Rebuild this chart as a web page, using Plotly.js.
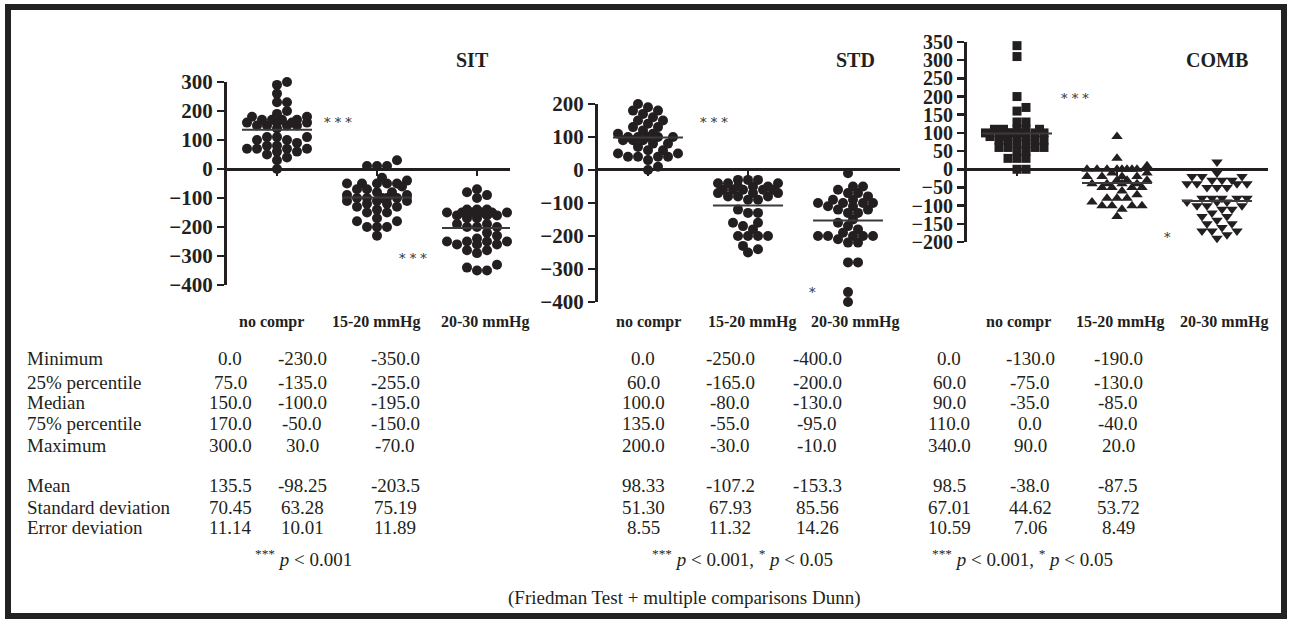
<!DOCTYPE html>
<html>
<head>
<meta charset="utf-8">
<script src="https://cdn.plot.ly/plotly-3.0.1.min.js"></script>
<style>html,body{margin:0;padding:0;background:#fff;}#chart{width:1290px;height:620px;}</style>
</head>
<body>
<div id="chart"></div>
<script>
// ---------- DATA ----------
const categories = ['no compr', '15-20 mmHg', '20-30 mmHg'];
const panelNames = ['SIT', 'STD', 'COMB'];

const sitNoCompr = [0,30,40,50,60,60,70,70,70,70,80,80,90,100,100,110,110,110,140,150,150,150,150,160,160,160,160,170,170,170,170,180,180,190,200,230,230,260,290,300];
const sit1520 = [-230,-200,-200,-200,-180,-180,-170,-150,-150,-140,-130,-130,-120,-120,-110,-110,-110,-100,-100,-100,-100,-100,-90,-90,-80,-80,-70,-70,-60,-50,-50,-50,-50,-50,-40,-30,10,10,10,30];
const sit2030 = [-350,-350,-340,-330,-290,-280,-280,-260,-260,-260,-250,-250,-250,-250,-240,-230,-220,-200,-200,-200,-190,-190,-170,-170,-160,-160,-160,-150,-150,-150,-150,-150,-150,-140,-140,-140,-100,-90,-80,-70];

const stdNoCompr = [0,10,30,40,40,40,40,50,50,60,60,70,80,80,90,90,90,100,100,100,100,100,110,110,120,130,130,140,150,150,160,170,180,180,190,200];
const std1520 = [-250,-240,-230,-200,-200,-200,-200,-180,-170,-160,-160,-130,-130,-120,-90,-90,-80,-80,-80,-70,-70,-70,-60,-60,-60,-60,-60,-50,-50,-50,-40,-40,-40,-30,-30,-30];
const std2030 = [-400,-370,-280,-280,-220,-220,-210,-200,-200,-200,-200,-200,-190,-180,-170,-160,-150,-130,-130,-120,-120,-110,-110,-100,-100,-100,-100,-90,-90,-80,-70,-70,-60,-50,-50,-10];

const combNoCompr = [0,0,30,30,30,50,50,60,60,60,60,70,70,80,80,80,80,90,90,90,90,100,100,100,100,100,100,100,110,110,110,110,110,130,130,160,170,200,310,340];
const comb1520 = [-130,-110,-100,-100,-100,-100,-90,-80,-80,-80,-70,-60,-50,-50,-50,-50,-40,-40,-40,-40,-30,-30,-30,-20,-20,-20,-20,-10,-10,0,0,0,0,0,0,0,0,10,30,90];
const comb2030 = [-190,-180,-170,-170,-170,-160,-150,-150,-140,-130,-130,-120,-110,-110,-100,-100,-100,-90,-90,-90,-80,-80,-80,-80,-80,-50,-50,-50,-40,-40,-40,-40,-30,-30,-30,-20,-20,-20,-10,20];

const sitTicks = [300,200,100,0,-100,-200,-300,-400];
const stdTicks = [200,100,0,-100,-200,-300,-400];
const combTicks = [350,300,250,200,150,100,50,0,-50,-100,-150,-200];

const statRows = ['Minimum','25% percentile','Median','75% percentile','Maximum','Mean','Standard deviation','Error deviation'];
const sitTable = [['0.0','-230.0','-350.0'],['75.0','-135.0','-255.0'],['150.0','-100.0','-195.0'],['170.0','-50.0','-150.0'],['300.0','30.0','-70.0'],['135.5','-98.25','-203.5'],['70.45','63.28','75.19'],['11.14','10.01','11.89']];
const stdTable = [['0.0','-250.0','-400.0'],['60.0','-165.0','-200.0'],['100.0','-80.0','-130.0'],['135.0','-55.0','-95.0'],['200.0','-30.0','-10.0'],['98.33','-107.2','-153.3'],['51.30','67.93','85.56'],['8.55','11.32','14.26']];
const combTable = [['0.0','-130.0','-190.0'],['60.0','-75.0','-130.0'],['90.0','-35.0','-85.0'],['110.0','0.0','-40.0'],['340.0','90.0','20.0'],['98.5','-38.0','-87.5'],['67.01','44.62','53.72'],['10.59','7.06','8.49']];

const footnotes = ['<sup>***</sup> <i>p</i> &lt; 0.001', '<sup>***</sup> <i>p</i> &lt; 0.001, <sup>*</sup> <i>p</i> &lt; 0.05', '<sup>***</sup> <i>p</i> &lt; 0.001, <sup>*</sup> <i>p</i> &lt; 0.05'];
const testNote = '(Friedman Test + multiple comparisons Dunn)';

// ---------- LAYOUT HELPERS ----------
const W = 1290, H = 620;
const fx = px => px / W;
const fy = py => 1 - py / H;
const FONT = 'Liberation Serif';
const INK = '#231f20';

const panels = [
  {groups:[sitNoCompr,sit1520,sit2030], ticks:sitTicks, range:[-400,300], left:227, right:510, top:82, bottom:285,
   symbols:['circle','circle','circle'], size:[10,10,10], title:{x:473,y:60}, labels:[271,376,485], tickSize:21,
   stars:[{t:'* * *',x:338,y:123},{t:'* * *',x:413,y:258}], cols:[230,302,395], foot:303},
  {groups:[stdNoCompr,std1520,std2030], ticks:stdTicks, range:[-400,200], left:598, right:900, top:104, bottom:302,
   symbols:['circle','circle','circle'], size:[10,10,10], title:{x:855,y:60}, labels:[648,752,855], tickSize:21,
   stars:[{t:'* * *',x:714,y:123},{t:'*',x:812,y:292}], cols:[643,730,817], foot:742},
  {groups:[combNoCompr,comb1520,comb2030], ticks:combTicks, range:[-200,350], left:967, right:1268, top:42, bottom:242,
   symbols:['square','triangle-up','triangle-down'], size:[9,10,10], title:{x:1217,y:60}, labels:[1018,1120,1224], tickSize:20,
   stars:[{t:'* * *',x:1075,y:98},{t:'*',x:1167,y:237}], cols:[949,1030,1118], foot:1022}
];
const rowY = [358,382,402,423,445,486,507,527];

// beeswarm offsets (pixels) computed from the values
function swarm(vals, pxPerUnit, D, maxOff) {
  const idx = vals.map((v,i)=>i).sort((a,b)=>vals[a]-vals[b]);
  const placed = [], off = new Array(vals.length);
  const minD = D*0.78, step = D*0.5;
  idx.forEach(i => {
    const y = vals[i]*pxPerUnit;
    let best = 0, bestScore = -1;
    for (let k=0;k<60;k++){
      const m = k===0?0:Math.ceil(k/2)*(k%2===1?1:-1);
      const x = m*step;
      if (Math.abs(x) > maxOff) continue;
      let dmin = Infinity;
      placed.forEach(p => { const d = Math.hypot(p.x-x,p.y-y); if (d<dmin) dmin=d; });
      if (dmin >= minD) { best = x; bestScore = Infinity; break; }
      if (dmin > bestScore) { bestScore = dmin; best = x; }
    }
    placed.push({x:best,y}); off[i] = best;
  });
  return off;
}

const data = [], shapes = [], annotations = [];
const layout = {width:W, height:H, margin:{l:0,r:0,t:0,b:0}, paper_bgcolor:'#fff', plot_bgcolor:'rgba(0,0,0,0)',
  showlegend:false, font:{family:FONT, color:INK}};

panels.forEach((p, pi) => {
  const xa = pi===0?'x':'x'+(pi+1), ya = pi===0?'y':'y'+(pi+1);
  const xk = pi===0?'xaxis':'xaxis'+(pi+1), yk = pi===0?'yaxis':'yaxis'+(pi+1);
  const pxPerCat = 100;
  const xr = [-0.5, -0.5 + (p.right-p.left)/pxPerCat];
  const pxPerUnit = (p.bottom-p.top)/(p.range[1]-p.range[0]);
  layout[xk] = {domain:[fx(p.left), fx(p.right)], range:xr, anchor:'free', position:fy(169),
    showline:true, linewidth:2.5, linecolor:INK, ticks:'outside', ticklen:5, tickwidth:2, tickcolor:INK,
    tickvals:[0,1,2], showticklabels:false, showgrid:false, zeroline:false, fixedrange:true};
  layout[yk] = {domain:[fy(p.bottom), fy(p.top)], range:p.range, anchor:xa,
    showline:true, linewidth:3, linecolor:INK, ticks:'outside', ticklen:7, tickwidth:2.5, tickcolor:INK,
    tickmode:'array', tickvals:p.ticks, showgrid:false, zeroline:false, fixedrange:true,
    tickfont:{family:FONT, size:p.tickSize, weight:'bold', color:INK}};
  p.groups.forEach((vals, gi) => {
    const offs = swarm(vals, pxPerUnit, p.size[gi], 33);
    data.push({type:'scatter', mode:'markers', xaxis:xa, yaxis:ya, cliponaxis:false,
      x: vals.map((v,i)=>gi + offs[i]/pxPerCat), y: vals,
      marker:{symbol:p.symbols[gi], size:p.size[gi], color:INK, line:{width:0}}, hoverinfo:'y'});
    const mean = vals.reduce((a,b)=>a+b,0)/vals.length;
    shapes.push({type:'line', xref:xa, yref:ya, x0:gi-0.35, x1:gi+0.35, y0:mean, y1:mean, layer:'above',
      line:{color:'#3a3a3a', width:2}});
    annotations.push({xref:'paper', yref:'paper', x:fx(p.labels[gi]), y:fy(322), text:'<b>'+categories[gi]+'</b>', showarrow:false,
      font:{family:FONT, size:16, color:INK}, xanchor:'center', yanchor:'middle'});
  });
  annotations.push({xref:'paper', yref:'paper', x:fx(p.title.x), y:fy(p.title.y), text:'<b>'+panelNames[pi]+'</b>',
    showarrow:false, font:{family:FONT, size:20, color:INK}, xanchor:'center', yanchor:'middle'});
  p.stars.forEach(s => annotations.push({xref:'paper', yref:'paper', x:fx(s.x), y:fy(s.y), text:s.t, showarrow:false,
    font:{family:'DejaVu Serif', size:13, color:'#333'}, xanchor:'center', yanchor:'middle'}));
  const tbl = [sitTable, stdTable, combTable][pi];
  tbl.forEach((row, ri) => row.forEach((cell, ci) => annotations.push({xref:'paper', yref:'paper',
    x:fx(p.cols[ci]), y:fy(rowY[ri]), text:cell, showarrow:false, font:{family:FONT, size:19, color:INK},
    xanchor:'center', yanchor:'middle'})));
  annotations.push({xref:'paper', yref:'paper', x:fx(p.foot), y:fy(558), text:footnotes[pi], showarrow:false,
    font:{family:FONT, size:19, color:INK}, xanchor:'center', yanchor:'middle'});
});

statRows.forEach((r, ri) => annotations.push({xref:'paper', yref:'paper', x:fx(25), y:fy(rowY[ri]), text:r,
  showarrow:false, font:{family:FONT, size:19, color:INK}, xanchor:'left', yanchor:'middle'}));
annotations.push({xref:'paper', yref:'paper', x:fx(684), y:fy(598), text:testNote, showarrow:false,
  font:{family:FONT, size:19, color:INK}, xanchor:'center', yanchor:'middle'});

shapes.push({type:'rect', xref:'paper', yref:'paper', x0:fx(8), x1:fx(1284), y0:fy(616), y1:fy(7),
  line:{color:'#222', width:6}, fillcolor:'rgba(0,0,0,0)'});

layout.shapes = shapes;
layout.annotations = annotations;
Plotly.newPlot('chart', data, layout, {displayModeBar:false, staticPlot:true});
</script>
</body>
</html>
